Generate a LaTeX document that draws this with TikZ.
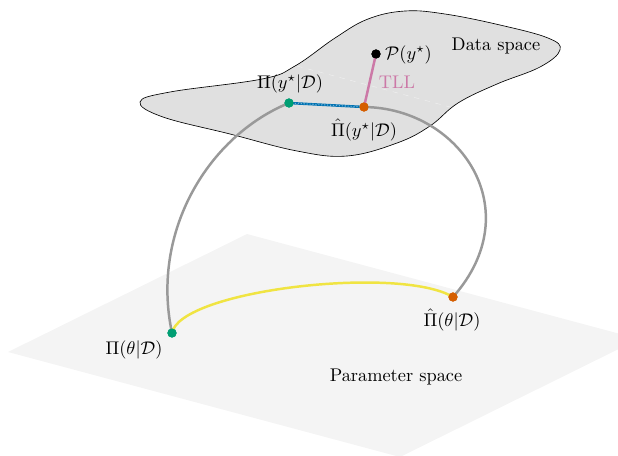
\documentclass[tikz,border=0pt]{standalone}
\usepackage{amsmath}
\definecolor{cgreen}{HTML}{009E73}
\definecolor{corange}{HTML}{D55E00}
\definecolor{cblue}{HTML}{0072B2}
\definecolor{cpink}{HTML}{CC79A7}
\definecolor{cyellow}{HTML}{F0E442}
\definecolor{cgray}{HTML}{999999}
\definecolor{blobfill}{HTML}{E0E0E0}
\definecolor{planefill}{HTML}{F4F4F4}
\begin{document}
\begin{tikzpicture}[x=0.545pt,y=-0.545pt,
  dot/.style={circle,inner sep=0pt,minimum size=5pt},
  arc/.style={line width=1.35pt,cgray},
  lbl/.style={inner sep=1pt}]
\useasboundingbox (0,0) rectangle (618,455);
\begin{scope}
\clip (0,0) rectangle (618,455);
\fill[planefill] (8,352) -- (247,234) -- (639,339) -- (400,457) -- cycle;
\end{scope}
% data space blob
\draw[fill=blobfill,line width=0.35pt] plot[smooth cycle,tension=0.65] coordinates {
 (140,102) (170,92) (262,79) (295,66) (335,38) (368,19) (405,11) (445,14) (500,25) (548,38) (560,50) (540,67) (497,84) (458,103) (430,126) (397,143) (347,156) (297,151) (230,134) (163,117)};
\draw[white,line width=0.25pt,opacity=0.5,dashed] (297,66) -- (450,107);
% points
\node[dot,fill=black] (P) at (376,54) {};
\node[dot,fill=cgreen] (Py) at (289,103) {};
\node[dot,fill=corange] (Qy) at (364,107) {};
\node[dot,fill=cgreen] (Pt) at (172,333) {};
\node[dot,fill=corange] (Qt) at (453,297) {};
% curves
\draw[arc] (Py.center) .. controls (210,135) and (150,230) .. (Pt.center);
\draw[arc] (Qy.center) .. controls (460,108) and (530,210) .. (Qt.center);
\draw[line width=1.35pt,cyellow] (Pt.center) .. controls (180,290) and (400,265) .. (Qt.center);
\draw[line width=1.35pt,cblue] (Py.center) -- (Qy.center);
\draw[line width=0.6pt,cblue!55!white,densely dotted] (Py.center) -- (Qy.center);
\draw[line width=1.35pt,cpink] (Qy.center) -- (P.center);
% redraw dots on top
\node[dot,fill=black] at (P) {};
\node[dot,fill=cgreen] at (Py) {};
\node[dot,fill=corange] at (Qy) {};
\node[dot,fill=cgreen] at (Pt) {};
\node[dot,fill=corange] at (Qt) {};
% labels
\node[lbl] (lPy) at (290,84) {$\Pi(y^\star|\mathcal{D})$};
\node[lbl] (lQy) at (364,130) {$\hat{\Pi}(y^\star|\mathcal{D})$};
\node[lbl,anchor=west] (lP) at (383,55) {$\mathcal{P}(y^\star)$};
\node[lbl,text=cpink] (tll) at (397,82) {TLL};
\node[lbl] (ds) at (496,46) {Data space};
\node[lbl] (lPt) at (134,350) {$\Pi(\theta|\mathcal{D})$};
\node[lbl] (lQt) at (452,320) {$\hat{\Pi}(\theta|\mathcal{D})$};
\node[lbl] (ps) at (396,377) {Parameter space};
\end{tikzpicture}
\end{document}
